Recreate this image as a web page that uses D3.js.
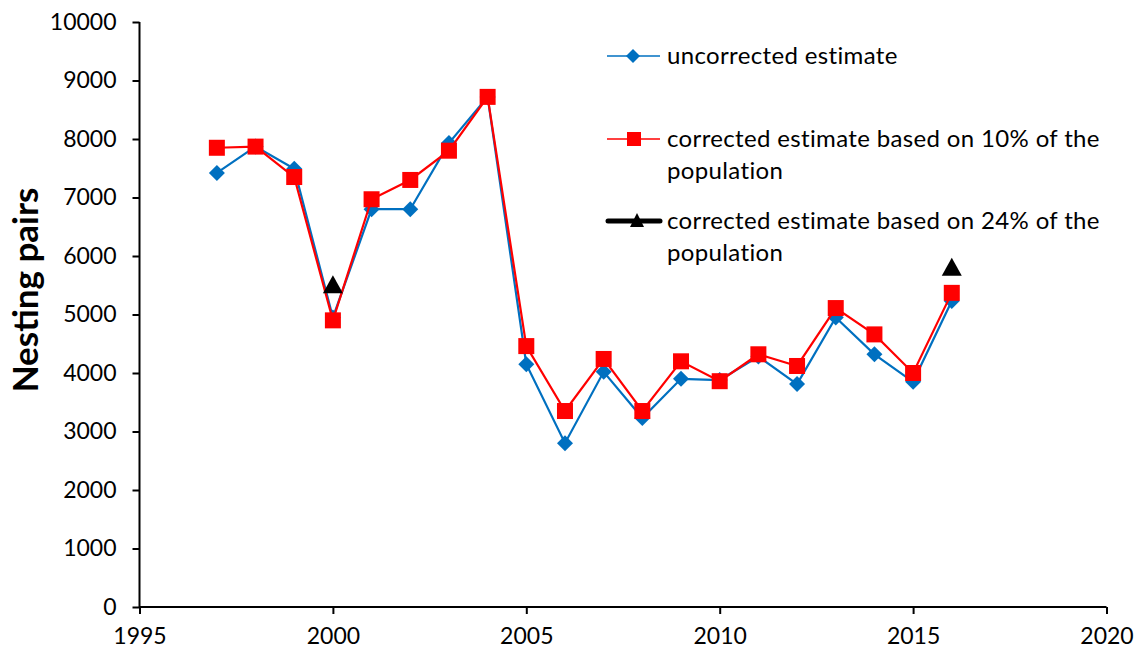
<!DOCTYPE html>
<html><head><meta charset="utf-8">
<script src="https://cdn.jsdelivr.net/npm/d3@7"></script>
<style>body{margin:0;background:#fff}svg{display:block}text{font-family:Lato,"Open Sans",sans-serif;fill:#000}</style>
</head><body>
<svg id="c" width="1143" height="660"></svg>
<script>
const years = [1997,1998,1999,2000,2001,2002,2003,2004,2005,2006,2007,2008,2009,2010,2011,2012,2013,2014,2015,2016];
const uncorrected = [7420,7870,7490,4950,6800,6800,7930,8720,4150,2800,4020,3230,3900,3880,4280,3810,4950,4320,3850,5230];
const corrected10 = [7850,7870,7350,4900,6970,7300,7800,8720,4460,3350,4240,3350,4200,3860,4320,4120,5110,4660,4000,5370];
const years24 = [2000,2016];
const corrected24 = [5500,5800];
const xTicks = [1995,2000,2005,2010,2015,2020];
const yTicks = [0,1000,2000,3000,4000,5000,6000,7000,8000,9000,10000];
const legendLabels = [["uncorrected estimate"],["corrected estimate based on 10% of the","population"],["corrected estimate based on 24% of the","population"]];

const svg = d3.select("#c");
const x = d3.scaleLinear().domain([1995,2020]).range([139.5,1106.5]);
const y = d3.scaleLinear().domain([0,10000]).range([607,22]);

const xAxis = svg.append("g").attr("transform","translate(0,607)")
  .call(d3.axisBottom(x).tickValues(xTicks).tickFormat(d3.format("d")).tickSize(7).tickPadding(14));
const yAxis = svg.append("g").attr("transform","translate(139.5,0)")
  .call(d3.axisLeft(y).tickValues(yTicks).tickFormat(d3.format("d")).tickSize(7).tickPadding(16));
[xAxis,yAxis].forEach(a=>{
  a.selectAll("path,line").attr("stroke","#000").attr("stroke-width",2);
  a.selectAll("text").style("font-size","23px").attr("fill","#000");
});
xAxis.select(".domain").attr("d","M139.5,0H1106.5");
yAxis.select(".domain").attr("d","M0,22V607");

svg.append("text").attr("transform","translate(38,290) rotate(-90)")
  .attr("text-anchor","middle").style("font-size","35px").style("font-weight","bold").text("Nesting pairs");

const line = d3.line().x(d=>x(d[0])).y(d=>y(d[1]));
const blueC="#0070C0", redC="#FF0000";
const bData = years.map((yr,i)=>[yr,uncorrected[i]]);
const rData = years.map((yr,i)=>[yr,corrected10[i]]);
const tData = years24.map((yr,i)=>[yr,corrected24[i]]);

svg.append("path").datum(bData).attr("d",line).attr("fill","none").attr("stroke",blueC).attr("stroke-width",2.2);
svg.selectAll(".dia").data(bData).join("path").attr("transform",d=>`translate(${x(d[0])},${y(d[1])})`)
  .attr("d","M0,-8L8,0L0,8L-8,0Z").attr("fill",blueC);
svg.append("path").datum(rData).attr("d",line).attr("fill","none").attr("stroke",redC).attr("stroke-width",2.2);
svg.selectAll(".sq").data(rData).join("rect").attr("x",d=>x(d[0])-8).attr("y",d=>y(d[1])-8)
  .attr("width",16).attr("height",16).attr("fill",redC);
svg.selectAll(".tri").data(tData).join("path").attr("transform",d=>`translate(${x(d[0])},${y(d[1])})`)
  .attr("d","M0,-10L10,8L-10,8Z").attr("fill","#000");

// legend
const lg = svg.append("g");
const ly = [56,139,221];
lg.append("line").attr("x1",607).attr("x2",660).attr("y1",ly[0]).attr("y2",ly[0]).attr("stroke",blueC).attr("stroke-width",1.5);
lg.append("path").attr("transform",`translate(633,${ly[0]})`).attr("d","M0,-7L7,0L0,7L-7,0Z").attr("fill",blueC);
lg.append("line").attr("x1",607).attr("x2",660).attr("y1",ly[1]).attr("y2",ly[1]).attr("stroke",redC).attr("stroke-width",1.5);
lg.append("rect").attr("x",627).attr("y",ly[1]-7).attr("width",14).attr("height",14).attr("fill",redC);
lg.append("line").attr("x1",608).attr("x2",660).attr("y1",ly[2]).attr("y2",ly[2]).attr("stroke","#000").attr("stroke-width",5).attr("stroke-linecap","round");
lg.append("path").attr("transform",`translate(637,${ly[2]})`).attr("d","M0,-8L7,6L-7,6Z").attr("fill","#000");
legendLabels.forEach((lines,i)=>{
  lines.forEach((t,j)=>{
    lg.append("text").attr("x",667).attr("y",ly[i]+j*32).attr("dy","0.35em")
      .style("font-size","24px").style("letter-spacing","0.35px").text(t);
  });
});
</script>
</body></html>
